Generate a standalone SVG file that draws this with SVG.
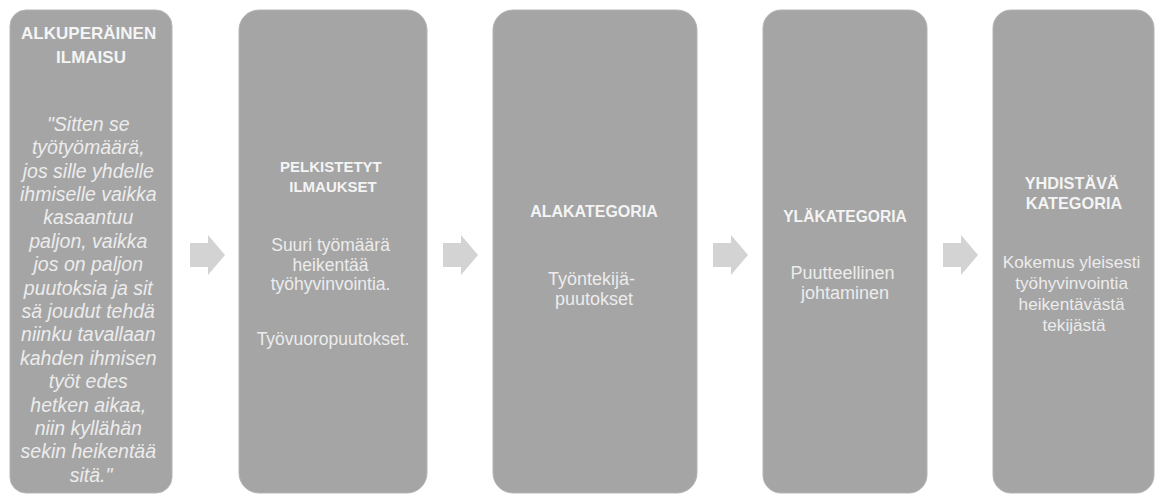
<svg xmlns="http://www.w3.org/2000/svg" width="1155" height="495" viewBox="0 0 1155 495">
  <defs>
    <style>
      .box { fill: #a5a5a5; stroke: #b4b4b4; stroke-width: 1; }
      .head { font-family: "Liberation Sans", Arial, sans-serif; font-weight: bold; fill: #f4f4f4; text-anchor: middle; }
      .body { font-family: "Liberation Sans", Arial, sans-serif; fill: #ececec; text-anchor: middle; }
      .quote { font-family: "Liberation Sans", Arial, sans-serif; font-style: italic; fill: #ececec; text-anchor: middle; font-size: 19.5px; }
      .arrow { fill: #d3d3d3; }
    </style>
    <polygon id="blockArrow" points="0,8 18,8 18,0 35,20 18,40 18,32 0,32"/>
  </defs>

  <rect width="1155" height="495" fill="#ffffff"/>

  <!-- connectors between the columns -->
  <g id="connectors">
    <use href="#blockArrow" class="arrow" x="190" y="235"/>
    <use href="#blockArrow" class="arrow" x="443" y="235"/>
    <use href="#blockArrow" class="arrow" x="713" y="235"/>
    <use href="#blockArrow" class="arrow" x="943" y="235"/>
  </g>

  <!-- column 1: original expression -->
  <g id="node-alkuperainen">
    <rect class="box" x="10" y="10" width="162" height="483" rx="16"/>
    <text class="head" font-size="17" x="91">
      <tspan x="91" y="39">ALKUPERÄINEN</tspan>
      <tspan x="91" y="63">ILMAISU</tspan>
    </text>
    <text class="quote">
      <tspan x="91" y="130.7">"Sitten se</tspan>
      <tspan x="91" y="154.1">työtyömäärä,</tspan>
      <tspan x="91" y="177.5">jos sille yhdelle</tspan>
      <tspan x="91" y="200.9">ihmiselle vaikka</tspan>
      <tspan x="91" y="224.3">kasaantuu</tspan>
      <tspan x="91" y="247.7">paljon, vaikka</tspan>
      <tspan x="91" y="271.1">jos on paljon</tspan>
      <tspan x="91" y="294.5">puutoksia ja sit</tspan>
      <tspan x="91" y="317.9">sä joudut tehdä</tspan>
      <tspan x="91" y="341.3">niinku tavallaan</tspan>
      <tspan x="91" y="364.7">kahden ihmisen</tspan>
      <tspan x="91" y="388.1">työt edes</tspan>
      <tspan x="91" y="411.5">hetken aikaa,</tspan>
      <tspan x="91" y="434.9">niin kyllähän</tspan>
      <tspan x="91" y="458.3">sekin heikentää</tspan>
      <tspan x="91" y="481.7">sitä."</tspan>
    </text>
  </g>

  <!-- column 2: reduced expressions -->
  <g id="node-pelkistetyt">
    <rect class="box" x="239" y="10" width="188" height="483" rx="20"/>
    <text class="head" font-size="15">
      <tspan x="333" y="172">PELKISTETYT</tspan>
      <tspan x="333" y="192">ILMAUKSET</tspan>
    </text>
    <text class="body" font-size="17.5">
      <tspan x="333" y="251">Suuri työmäärä</tspan>
      <tspan x="333" y="270.5">heikentää</tspan>
      <tspan x="333" y="290">työhyvinvointia.</tspan>
      <tspan x="333" y="345">Työvuoropuutokset.</tspan>
    </text>
  </g>

  <!-- column 3: subcategory -->
  <g id="node-alakategoria">
    <rect class="box" x="493" y="10" width="204" height="483" rx="20"/>
    <text class="head" font-size="16" x="594" y="217">ALAKATEGORIA</text>
    <text class="body" font-size="18">
      <tspan x="594" y="285">Työntekijä-</tspan>
      <tspan x="594" y="304.5">puutokset</tspan>
    </text>
  </g>

  <!-- column 4: upper category -->
  <g id="node-ylakategoria">
    <rect class="box" x="763" y="10" width="164" height="483" rx="18"/>
    <text class="head" font-size="15.6" x="845" y="222">YLÄKATEGORIA</text>
    <text class="body" font-size="18">
      <tspan x="845" y="279">Puutteellinen</tspan>
      <tspan x="845" y="299">johtaminen</tspan>
    </text>
  </g>

  <!-- column 5: combining category -->
  <g id="node-yhdistava">
    <rect class="box" x="993" y="10" width="161" height="483" rx="18"/>
    <text class="head" font-size="16.3">
      <tspan x="1074" y="189">YHDISTÄVÄ</tspan>
      <tspan x="1074" y="209">KATEGORIA</tspan>
    </text>
    <text class="body" font-size="17.2">
      <tspan x="1074" y="268">Kokemus yleisesti</tspan>
      <tspan x="1074" y="289">työhyvinvointia</tspan>
      <tspan x="1074" y="310">heikentävästä</tspan>
      <tspan x="1074" y="331">tekijästä</tspan>
    </text>
  </g>
</svg>
